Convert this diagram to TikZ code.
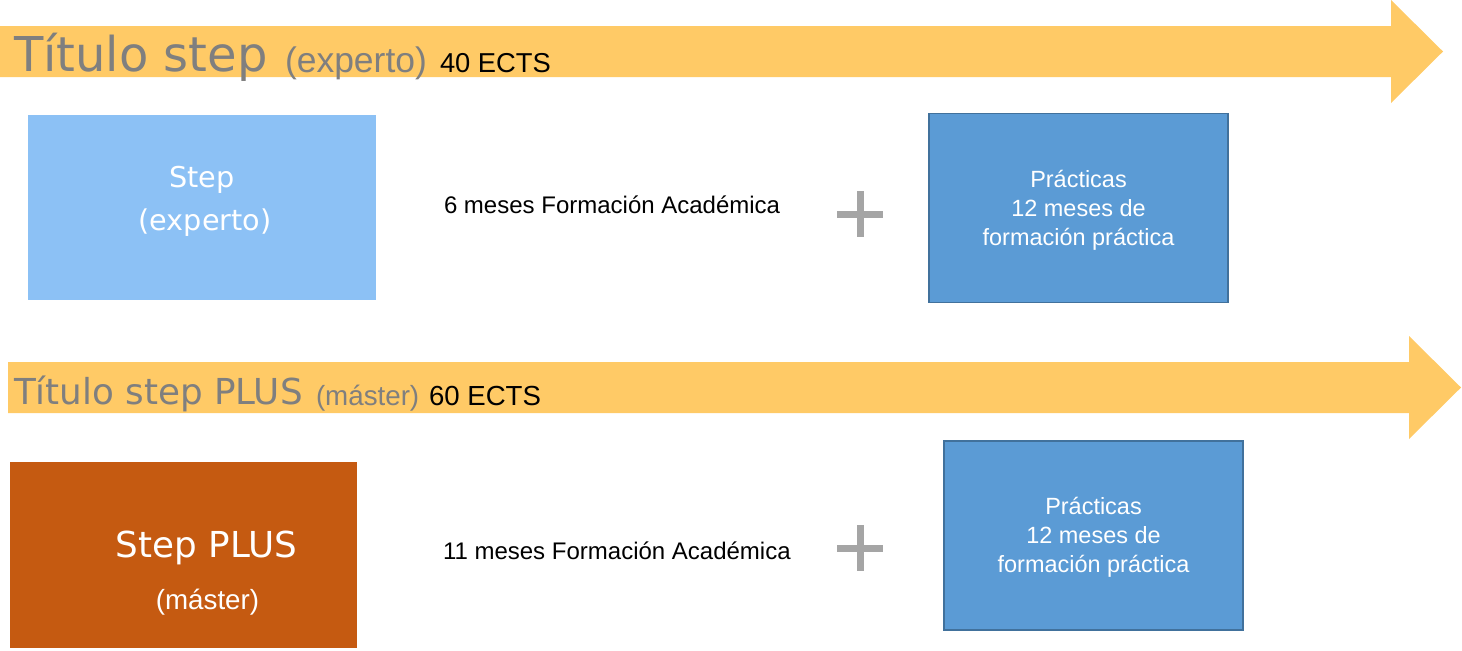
\documentclass[tikz,border=0pt]{standalone}
\usepackage{fontspec}
\setmainfont{Liberation Sans}
\newfontfamily\dsans{DejaVu Sans}
\definecolor{bandyellow}{HTML}{FFCA66}
\definecolor{titlegray}{HTML}{7F7F7F}
\definecolor{lightblue}{HTML}{8CC1F5}
\definecolor{midblue}{HTML}{5B9BD5}
\definecolor{blueedge}{HTML}{41719C}
\definecolor{rust}{HTML}{C55A11}
\definecolor{plusgray}{HTML}{A5A5A5}
\tikzset{
  band/.style={fill=bandyellow, draw=none},
  titlebig/.style={anchor=base west, text=titlegray},
  lbox/.style={fill=lightblue, draw=none, minimum width=261pt, minimum height=138.75pt},
  obox/.style={fill=rust, draw=none, minimum width=260.25pt, minimum height=139.5pt},
  pbox/.style={fill=midblue, draw=blueedge, line width=1.1pt, minimum width=224.25pt, minimum height=142pt,
    text=white, align=center, font=\fontsize{17.6}{21.75}\selectfont},
  boxtext/.style={text=white, align=center},
  plain/.style={anchor=base west, font=\fontsize{18}{20}\selectfont},
  plusbar/.style={fill=plusgray, draw=none}
}
\begin{document}
\begin{tikzpicture}[x=0.75pt,y=-0.75pt, every node/.style={inner sep=0pt, outer sep=0pt}]
\useasboundingbox (0,0) rectangle (1462,650);
% arrows
\fill[band] (0,26) -- (1391,26) -- (1391,0) -- (1443,51.5) -- (1391,103) -- (1391,77) -- (0,77) -- cycle;
\fill[band] (8,362) -- (1409,362) -- (1409,336) -- (1461,387.5) -- (1409,439) -- (1409,413) -- (8,413) -- cycle;
% titles
\node[titlebig, font=\dsans\fontsize{36}{38}\selectfont] (t1a) at (14,71) {Título step};
\node[titlebig, font=\fontsize{26.6}{28}\selectfont] (t1b) at (285,72) {(experto)};
\node[anchor=base west, font=\fontsize{20.5}{22}\selectfont] (t1c) at (440,72) {40 ECTS};
\node[titlebig, font=\dsans\fontsize{26.8}{28}\selectfont] (t2a) at (14,404.5) {Título step PLUS};
\node[titlebig, font=\fontsize{20.8}{22}\selectfont] (t2b) at (316,405) {(máster)};
\node[anchor=base west, font=\fontsize{20.7}{22}\selectfont] (t2c) at (429,405) {60 ECTS};
% row 1
\node[lbox] (stepbox) at (202,207.5) {};
\node[boxtext, anchor=base, font=\dsans\fontsize{21.5}{21.5}\selectfont] (steptxt) at (202,187) {Step};
\node[boxtext, anchor=base, font=\dsans\fontsize{21.5}{21.5}\selectfont] (stepsub) at (205,230) {(experto)};
\node[plain] (acad1) at (444,213.5) {6 meses Formación Académica};
\fill[plusbar] (837,210.5) rectangle (883,217.5);
\fill[plusbar] (856.5,191) rectangle (863.5,237);
\node[pbox] (prac1) at (1078.5,208) {\rule{0pt}{16pt}Prácticas\\12 meses de\\formación práctica};
% row 2
\node[obox] (plusbox) at (183.5,555) {};
\node[boxtext, anchor=base, font=\dsans\fontsize{26.8}{26.8}\selectfont] (plustxt) at (206.5,557.5) {Step PLUS};
\node[boxtext, anchor=base, font=\fontsize{20.8}{22}\selectfont] (plussub) at (207.5,609) {(máster)};
\node[plain] (acad2) at (443,559) {11 meses Formación Académica};
\fill[plusbar] (837,544.5) rectangle (883,551.5);
\fill[plusbar] (856.5,525) rectangle (863.5,571);
\node[pbox] (prac2) at (1093.5,535.5) {\rule{0pt}{16pt}Prácticas\\12 meses de\\formación práctica};
\end{tikzpicture}
\end{document}
